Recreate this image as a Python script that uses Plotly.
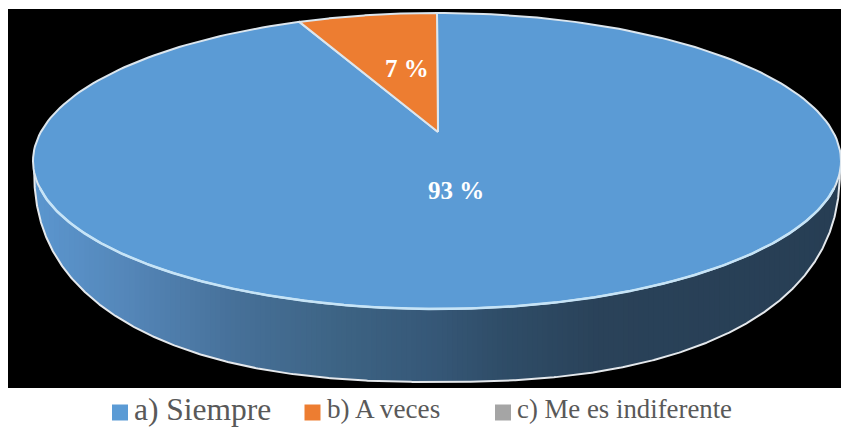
import numpy as np
import plotly.graph_objects as go

categories = ["a) Siempre", "b) A veces", "c) Me es indiferente"]
values = [93, 7, 0]
colors = ["#5B9BD5", "#ED7D31", "#A5A5A5"]
label_texts = ["93 %", "7 %"]

W, H = 841, 427
PANEL = (8, 9, 841, 388)
TOP = dict(cx=437.0, cy=161.0, a=404.0, b=148.0)
APEX = (438.0, 132.0)
LOW = dict(cx=437.0, cy=165.0, a=403.0, b=217.0, p=2.4)
WARP = 12.4
SIDE_X = [34, 130, 230, 350, 430, 500, 600, 840]
SIDE_RGB = [(91, 150, 207), (84, 134, 184), (71, 113, 154), (60, 98, 130),
            (54, 88, 120), (47, 77, 104), (42, 66, 89), (39, 62, 84)]
LEGEND = [(120, 132, 31.5, 412.5, 409), (312.5, 325, 27.2, 412.5, 409), (503, 515, 26.8, 412.5, 409)]
LABEL_POS = [(456, 190), (407, 68)]


def rim(frac0, frac1, n=240):
    f = np.linspace(frac0, frac1, n)
    th = 2 * np.pi * f - np.radians(WARP) * np.sin(2 * np.pi * f)
    return TOP["cx"] + TOP["a"] * np.sin(th), TOP["cy"] - TOP["b"] * np.cos(th)


def top_lower(x):
    d = np.clip((x - TOP["cx"]) / TOP["a"], -1, 1)
    return TOP["cy"] + TOP["b"] * np.sqrt(1 - d * d)


def low_edge(x):
    d = np.clip(np.abs((np.asarray(x, float) - LOW["cx"]) / LOW["a"]), 0, 1)
    return LOW["cy"] + LOW["b"] * (1 - d ** LOW["p"]) ** (1 / LOW["p"])


xl0, xr0 = LOW["cx"] - LOW["a"], LOW["cx"] + LOW["a"]

fig = go.Figure()
fig.add_shape(type="rect", x0=PANEL[0], y0=PANEL[1], x1=PANEL[2], y1=PANEL[3],
              fillcolor="#000000", line_width=0, layer="below")

# side wall, as thin vertical strips carrying the shading
edges = np.linspace(xl0, xr0, 161)
for x0, x1 in zip(edges[:-1], edges[1:]):
    xs = np.linspace(x0, min(x1 + 1.0, xr0), 5)
    xm = (x0 + x1) / 2
    rgb = [int(round(np.interp(xm, SIDE_X, [c[i] for c in SIDE_RGB]))) for i in range(3)]
    fig.add_trace(go.Scatter(
        x=np.r_[xs, xs[::-1]], y=np.r_[top_lower(xs) - 2, low_edge(xs)[::-1]],
        mode="lines", fill="toself", fillcolor="rgb(%d,%d,%d)" % tuple(rgb),
        line=dict(width=0), hoverinfo="skip", showlegend=False))

# outline of side wall
t = np.linspace(0, np.pi, 700)
xs = LOW["cx"] - LOW["a"] * np.cos(t)
fig.add_trace(go.Scatter(x=xs, y=low_edge(xs), mode="lines",
                         line=dict(color="#E4E8EC", width=2), hoverinfo="skip", showlegend=False))

# top-face slices, clockwise from 12 o'clock
cum = np.cumsum([0] + values) / sum(values)
for v, f0, f1, col in zip(values, cum[:-1], cum[1:], colors):
    if v == 0:
        continue
    rx, ry = rim(f0, f1)
    fig.add_trace(go.Scatter(
        x=np.r_[APEX[0], rx, APEX[0]], y=np.r_[APEX[1], ry, APEX[1]],
        mode="lines", fill="toself", fillcolor=col,
        line=dict(color="#DCE6EE", width=2), hoverinfo="skip", showlegend=False))

# brighter front rim of the top face
xs = np.linspace(xl0 + 6, xr0 - 6, 500)
fig.add_trace(go.Scatter(x=xs, y=top_lower(xs), mode="lines",
                         line=dict(color="#C6E4F7", width=2.5), hoverinfo="skip", showlegend=False))

# legend swatches and texts
for (sx, tx, fs, sy, ty), col, name in zip(LEGEND, colors, categories):
    fig.add_trace(go.Scatter(x=[sx], y=[sy], mode="markers",
                             marker=dict(symbol="square", size=16, color=col, line_width=0),
                             hoverinfo="skip", showlegend=False))
    fig.add_annotation(x=tx, y=ty, xref="x", yref="y", text=name, showarrow=False,
                       xanchor="left", yanchor="middle",
                       font=dict(family="Liberation Serif", size=fs, color="#595959"))

# data labels
for txt, (lx, ly) in zip(label_texts, LABEL_POS):
    fig.add_annotation(x=lx, y=ly, xref="x", yref="y", text="<b>%s</b>" % txt, showarrow=False,
                       font=dict(family="Liberation Serif", size=25, color="#FFFFFF"))

fig.update_layout(width=W, height=H, margin=dict(l=0, r=0, t=0, b=0), autosize=False,
                  paper_bgcolor="#FFFFFF", plot_bgcolor="rgba(0,0,0,0)", showlegend=False,
                  xaxis=dict(range=[0, W], visible=False, fixedrange=True),
                  yaxis=dict(range=[H, 0], visible=False, fixedrange=True))

fig.write_html("out.html", config=dict(displayModeBar=False),
               post_script="document.body.style.margin='0';")
